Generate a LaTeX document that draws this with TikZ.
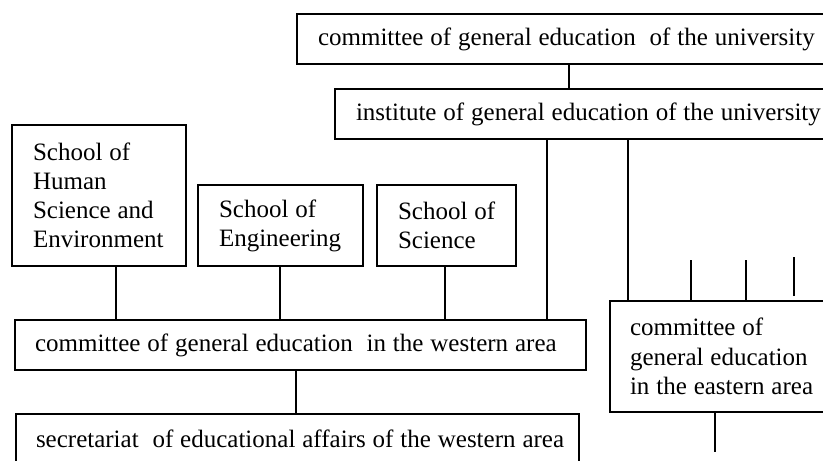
\documentclass[tikz,border=0pt]{standalone}
\usepackage{fontspec}
\setmainfont{Liberation Serif}
\usetikzlibrary{calc}
\begin{document}
\begin{tikzpicture}[x=0.5pt,y=-0.5pt,
  every node/.style={font=\fontsize{12.5}{14.6}\selectfont, execute at begin node={\spaceskip=3.45pt\relax}},
  box/.style={draw, line width=1pt, rectangle, anchor=north west, inner xsep=10.5pt, inner ysep=0pt, align=left},
  ln/.style={line width=1pt}]
\clip (0,0) rectangle (823,460);
\node[box, text width=259.5pt, minimum height=25pt] (top) at (296,13) {\mbox{committee of general education\ \ of the university}};
\node[box, text width=239pt, minimum height=25pt] (inst) at (334,88) {\mbox{institute of general education of the university}};
\node[box, text width=66pt, minimum height=70.5pt] (hse) at (11,124) {\mbox{School of}\\\mbox{Human}\\\mbox{Science and}\\\mbox{Environment}};
\node[box, text width=61.5pt, minimum height=40.5pt] (eng) at (197,184) {\mbox{School of}\\\mbox{Engineering}};
\node[box, text width=48.5pt, minimum height=40.5pt] (sci) at (376,184) {\mbox{School of}\\\mbox{Science}};
\node[box, inner xsep=10pt, text width=265.5pt, minimum height=25pt] (west) at (14,319) {\mbox{committee of general education\ \ in the western area}};
\node[box, inner xsep=10pt, text width=261.5pt, minimum height=25pt] (sec) at (15,413) {\mbox{secretariat\ \ of educational affairs of the western area}};
\node[box, inner xsep=10pt, text width=110pt, minimum height=55.5pt] (east) at (609,300) {\mbox{committee of}\\\mbox{general education}\\\mbox{in the eastern area}};
\draw[ln] ([xshift=136.5pt]top.south west) coordinate (c1) -- (c1 |- inst.north);
\draw[ln] ([xshift=106.5pt]inst.south west) coordinate (c2) -- (c2 |- west.north);
\draw[ln] ([xshift=147pt]inst.south west) coordinate (c3) -- (c3 |- east.north);
\draw[ln] ([xshift=52.5pt]hse.south west) coordinate (c4) -- (c4 |- west.north);
\draw[ln] ([xshift=41.5pt]eng.south west) coordinate (c5) -- (c5 |- west.north);
\draw[ln] ([xshift=34.5pt]sci.south west) coordinate (c6) -- (c6 |- west.north);
\draw[ln] ([xshift=141pt]west.south west) coordinate (c7) -- (c7 |- sec.north);
\draw[ln] ([xshift=41pt]east.north west) -- ++(0,-40) coordinate (e1);
\draw[ln] ([xshift=68.5pt]east.north west) -- ++(0,-40) coordinate (e2);
\draw[ln] ([xshift=92.5pt]east.north west) ++(0,-4) -- ++(0,-39) coordinate (e3);
\draw[ln] ([xshift=53pt]east.south west) -- ++(0,39) coordinate (e4);
\end{tikzpicture}
\end{document}
